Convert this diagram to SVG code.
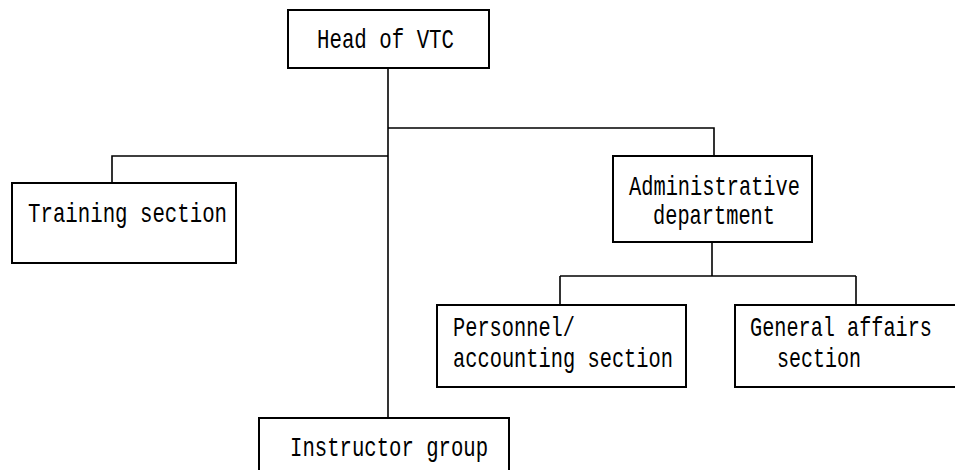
<svg xmlns="http://www.w3.org/2000/svg" width="955" height="470" viewBox="0 0 955 470">
<style>
.box{fill:#fff;stroke:#000;stroke-width:2}
.ln{fill:none;stroke:#000;stroke-width:1.6}
text{font-family:"Liberation Mono","DejaVu Sans Mono",monospace;font-size:28px;fill:#000}
</style>
<rect width="955" height="470" fill="#fff"/>
<g id="connectors">
<path class="ln" d="M388,68 V418"/>
<path class="ln" d="M388,128 H714 V156"/>
<path class="ln" d="M388,156 H112 V183"/>
<path class="ln" d="M712,242 V276"/>
<path class="ln" d="M560,276 H856"/>
<path class="ln" d="M560,276 V305"/>
<path class="ln" d="M856,276 V305"/>
</g>
<g id="head">
<rect class="box" x="288" y="10" width="201" height="58"/>
<text x="317" y="48" textLength="137" lengthAdjust="spacingAndGlyphs">Head of VTC</text>
</g>
<g id="training">
<rect class="box" x="12" y="183" width="224" height="80"/>
<text x="28" y="222" textLength="199" lengthAdjust="spacingAndGlyphs">Training section</text>
</g>
<g id="admin">
<rect class="box" x="613" y="156" width="199" height="86"/>
<text x="629" y="195" textLength="171" lengthAdjust="spacingAndGlyphs">Administrative</text>
<text x="653" y="224" textLength="122" lengthAdjust="spacingAndGlyphs">department</text>
</g>
<g id="personnel">
<rect class="box" x="437" y="305" width="249" height="82"/>
<text x="453" y="336" textLength="122" lengthAdjust="spacingAndGlyphs">Personnel/</text>
<text x="453" y="367" textLength="220" lengthAdjust="spacingAndGlyphs">accounting section</text>
</g>
<g id="general">
<path class="box" d="M962,305 H735 V387 H962"/>
<text x="750" y="336" textLength="182" lengthAdjust="spacingAndGlyphs">General affairs</text>
<text x="777" y="367" textLength="84" lengthAdjust="spacingAndGlyphs">section</text>
</g>
<g id="instructor">
<rect class="box" x="259" y="418" width="250" height="70"/>
<text x="290" y="456" textLength="198" lengthAdjust="spacingAndGlyphs">Instructor group</text>
</g>
</svg>
